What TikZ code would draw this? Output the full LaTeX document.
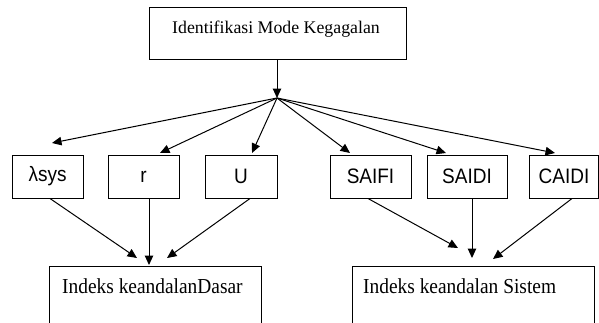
\documentclass[tikz,border=0pt]{standalone}
\usepackage{fontspec}
\usepackage{graphicx}
\setmainfont{Liberation Serif}
\newfontfamily\arialf{Liberation Sans}
\usetikzlibrary{arrows.meta}
\newcommand{\tallx}[1]{\scalebox{1}[1.1]{#1}}
\begin{document}
\begin{tikzpicture}[x=1pt,y=-1pt,
  box/.style={draw, line width=1pt, inner sep=0pt},
  small/.style={box, minimum height=43pt, font=\arialf\fontsize{19}{22}\selectfont},
  lbl/.style={inner sep=0pt, font=\fontsize{19.4}{22}\selectfont},
  arr/.style={line width=1pt, -{Triangle[length=9.5pt,width=8.5pt]}}]
\useasboundingbox (0,0) rectangle (599,322);
\begin{scope}
\clip (0,0) rectangle (599,322);
% top box
\node[box, minimum width=257pt, minimum height=52pt] (top) at (277.5,33) {};
\node[inner sep=0pt, anchor=base, font=\fontsize{17.8}{20}\selectfont] (toplbl) at (276,33) {Identifikasi Mode Kegagalan};
\coordinate (hub) at (277,98);
% small boxes
\node[small, minimum width=71pt] (lsys) at (47.5,176.5) {\tallx{λsys}};
\node[small, minimum width=71pt] (r) at (143.5,176.5) {\tallx{r}};
\node[small, minimum width=72pt] (u) at (241,176.5) {\tallx{U}};
\node[small, minimum width=81pt] (saifi) at (370.5,176.5) {\tallx{SAIFI}};
\node[small, minimum width=80pt] (saidi) at (467,176.5) {\tallx{SAIDI}};
\node[small, minimum width=69.5pt] (caidi) at (564,176.5) {\tallx{CAIDI}};
% bottom boxes
\node[box, minimum width=212pt, minimum height=90pt, anchor=north west] (dasar) at (49,266) {};
\node[lbl, anchor=base west] (dasarlbl) at (62,293) {\tallx{Indeks keandalanDasar}};
\node[box, minimum width=242pt, minimum height=90pt, anchor=north west] (sistem) at (352,266) {};
\node[lbl, anchor=base west] (sistemlbl) at (363,293) {\tallx{Indeks keandalan Sistem}};
% arrow ends
\coordinate (t1) at (52,143);
\coordinate (t2) at (160,153);
\coordinate (t3) at (252,153);
\coordinate (t4) at (350,153);
\coordinate (t5) at (446,153);
\coordinate (t6) at (555,153);
\coordinate (d1) at (137,258);
\coordinate (d2) at (149,265);
\coordinate (d3) at (167,258);
\coordinate (s1) at (458,248);
\coordinate (s2) at (472,258);
\coordinate (s3) at (493,259);
% connectors
\draw[arr] (top.south -| hub) -- (hub);
\foreach \t in {t1,t2,t3,t4,t5,t6} \draw[arr] (hub) -- (\t);
\draw[arr] ([xshift=2.5pt]lsys.south) -- (d1);
\draw[arr] (r.south -| d2) -- (d2);
\draw[arr] ([xshift=9pt]u.south) -- (d3);
\draw[arr] ([xshift=-2.5pt]saifi.south) -- (s1);
\draw[arr] (saidi.south -| s2) -- (s2);
\draw[arr] ([xshift=8pt]caidi.south) -- (s3);
\end{scope}
\end{tikzpicture}
\end{document}
